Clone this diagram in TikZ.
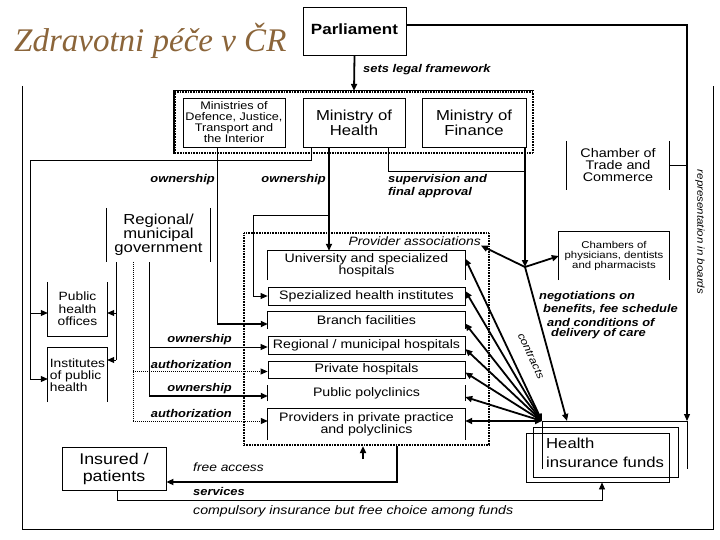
\documentclass[tikz,border=0pt]{standalone}
\usepackage{fontspec}
\setmainfont[FakeStretch=1.15]{Liberation Sans}
\newfontfamily\titlefont{Liberation Serif}
\usetikzlibrary{arrows.meta}
\definecolor{titlebrown}{RGB}{139,101,58}
\newcommand{\myfs}[2]{\fontsize{#1pt}{#2pt}\selectfont}
\begin{document}
\begin{tikzpicture}[x=1pt,y=-1pt,
  box/.style={draw, line width=0.8pt, inner sep=0pt, align=center},
  nb/.style={inner sep=0pt, align=center},
  thinl/.style={line width=0.8pt},
  medl/.style={line width=1.2pt},
  thickl/.style={line width=1.8pt},
  arr/.style={-{Triangle[length=7pt,width=6pt]}},
  darr/.style={{Triangle[length=7pt,width=6pt]}-{Triangle[length=7pt,width=6pt]}},
  grp/.style={draw, line width=2.2pt, dash pattern=on 0.9pt off 0.7pt, inner sep=0pt},
  lbl/.style={inner sep=0pt, font=\myfs{11.2}{12.3}\bfseries\itshape},
  ilbl/.style={inner sep=0pt, font=\myfs{12}{12}\itshape},
  prv/.style={nb, minimum width=197pt, font=\myfs{12.3}{12}},
  dotl/.style={line width=1pt, densely dotted}]
\fill[white] (0,0) rectangle (720,540);
\useasboundingbox (0,0) rectangle (720,540);

% title
\node[anchor=base west, inner sep=0pt, text=titlebrown, font=\titlefont\itshape\fontsize{33pt}{33pt}\selectfont] (title) at (14,52) {Zdravotni péče v ČR};

% outer frame
\draw[thinl] (22,86) -- (22,529) -- (713,529) -- (713,86);

% parliament and ministries
\node[box, minimum width=103pt, minimum height=48pt, font=\myfs{14.8}{15}\bfseries] (parl) at (354.5,31) {\raisebox{4pt}{Parliament}};
\node[grp, minimum width=358pt, minimum height=61pt] (mingrp) at (354,122.5) {};
\draw[line width=1.2pt] (mingrp.south west) -- (mingrp.north west) -- (mingrp.north east);
\node[box, minimum width=102pt, minimum height=49pt, font=\myfs{11}{11}] (mdef) at (234,122.5) {Ministries of\\Defence, Justice,\\Transport and\\the Interior};
\node[box, minimum width=102pt, minimum height=49pt, font=\myfs{14.5}{15}] (mhealth) at (354,122.5) {Ministry of\\Health};
\node[box, minimum width=104pt, minimum height=49pt, font=\myfs{14.5}{15}] (mfin) at (474,122.5) {Ministry of\\Finance};
\node[lbl, anchor=west] (legal) at (363,70) {sets legal framework};

% chambers
\node[nb, minimum width=102pt, minimum height=49pt, font=\myfs{12.5}{12}] (ctc) at (618,165.5) {Chamber of\\Trade and\\Commerce};
\draw[thinl] (ctc.north west) -- (ctc.south west) (ctc.north east) -- (ctc.south east);
\node[nb, minimum width=110pt, minimum height=48pt, font=\myfs{9.9}{10}] (cpd) at (614,256) {Chambers of\\physicians, dentists\\and pharmacists};
\draw[thinl] (cpd.south west) -- (cpd.north west) -- (cpd.north east) -- (cpd.south east);

% regional government, public health
\node[nb, minimum width=103pt, minimum height=54pt, font=\myfs{14.5}{14}] (regov) at (158.5,235) {Regional/\\municipal\\government};
\draw[thinl] (regov.north west) -- (regov.south west) (regov.north east) -- (regov.south east);
\node[nb, minimum width=59pt, minimum height=54pt, font=\myfs{12}{12.5}] (pho) at (77.5,309) {Public\\health\\offices};
\draw[thinl] (pho.north west) -- (pho.south west) -- (pho.south east) -- (pho.north east);
\node[nb, minimum width=59pt, minimum height=54pt, font=\myfs{12}{12}, align=left] (iph) at (77.5,375) {Institutes\\of public\\health};
\draw[thinl] (iph.south west) -- (iph.north west) -- (iph.north east) -- (iph.south east);

% providers
\node[grp, minimum width=245pt, minimum height=212pt] (prov) at (366.5,339) {};
\node[nb, anchor=east, font=\myfs{12.1}{12}\itshape] (pa) at (481,241) {Provider associations};
\node[prv, minimum height=29pt] (univ) at (366.5,265.5) {University and specialized\\hospitals};
\draw[thinl] (univ.south west) -- (univ.north west) -- (univ.north east) -- (univ.south east);
\node[prv, draw, line width=0.8pt, minimum height=18pt] (spec) at (366.5,296) {Spezialized health institutes};
\node[prv, minimum height=17pt] (branch) at (366.5,320.5) {Branch facilities};
\draw[thinl] (branch.south west) -- (branch.north west) -- (branch.north east) -- (branch.south east);
\node[prv, draw, line width=0.8pt, minimum height=18pt] (reg) at (366.5,345) {Regional / municipal hospitals};
\node[prv, draw, line width=0.8pt, minimum height=17pt] (priv) at (366.5,369.5) {Private hospitals};
\node[prv, minimum height=16pt] (poly) at (366.5,393) {Public polyclinics};
\draw[thinl] (poly.south west) -- (poly.north west) (poly.south east) -- (poly.north east);
\node[prv, minimum height=31pt] (ppp) at (366.5,424.5) {Providers in private practice\\and polyclinics};
\draw[thinl] (ppp.south west) -- (ppp.north west) -- (ppp.north east) -- (ppp.south east);

% health insurance funds
\coordinate (conv) at (542,421);
\coordinate (hifR) at (687,421);
\draw[thinl] (542,469) -- (conv) -- (hifR) -- (687,469);
\node[box, minimum width=145pt, minimum height=50pt] (hifa) at (605.5,452) {};
\node[box, minimum width=143pt, minimum height=49pt] (hifb) at (597.5,457.5) {};
\node[nb, anchor=west, align=left, font=\myfs{14.5}{19}] (hif) at (546,452.5) {Health\\insurance funds};

% insured
\node[box, minimum width=104pt, minimum height=43pt, font=\myfs{15.5}{17}] (ins) at (114,468.5) {Insured /\\patients};

% ---- connectors ----
\draw[thickl,arr] (parl.south) -- (mingrp.north);
\draw[medl,arr] ([yshift=6pt]parl.east) -| (hifR);
\node[inner sep=0pt, rotate=-90, font=\myfs{10}{10}\itshape] (repr) at (700,232) {representation in boards};
\draw[thinl] (ctc.east) -- (ctc.east -| hifR);

% ownership from other ministries
\coordinate (dA) at ([xshift=-17pt]mdef.south);
\coordinate (brW) at ([yshift=-3.5pt]branch.west);
\draw[thinl] (dA) -- (dA |- brW);
\draw[thickl,arr] (dA |- brW) -- (brW);
\node[lbl, anchor=east] (own1) at (215,180) {ownership};

% ministry of health to public health
\coordinate (hA) at ([xshift=-43pt]mhealth.south);
\coordinate (lft) at (30,160);
\coordinate (phoA) at ([yshift=-4pt]pho.west);
\coordinate (iphA) at ([yshift=-4pt]iph.west);
\draw[thinl] (hA) |- (lft) -- (lft |- iphA);
\draw[thinl,arr] (lft |- phoA) -- (phoA);
\draw[thinl,arr] (lft |- iphA) -- (iphA);

% ministry of health ownership
\coordinate (hB) at ([xshift=-25pt]mhealth.south);
\draw[thickl,arr] (hB) -- (hB |- univ.north);
\coordinate (sp1) at (329,215);
\coordinate (sp2) at (253,215);
\draw[thinl,arr] (sp1) -- (sp2) |- (spec.west);
\node[lbl, anchor=east] (own2) at (326,180) {ownership};

% supervision
\coordinate (hC) at ([xshift=34pt]mhealth.south);
\coordinate (fA) at ([xshift=51pt]mfin.south);
\coordinate (sup) at (525,171);
\coordinate (J) at (525,267);
\draw[thinl] (hC) |- (sup);
\draw[thickl,arr] (fA) -- (J);
\node[lbl, anchor=west, align=left] (superv) at (388,186) {supervision and\\final approval};
\draw[thickl,arr] (J) -- (pa.south east);
\draw[thickl,arr] (J) -- (cpd.west);
\coordinate (hifN) at (567,421);
\draw[thickl,arr] (J) -- (hifN);
\node[lbl, anchor=west] (neg1) at (539,297) {negotiations on};
\node[lbl, anchor=west] (neg2) at (543,309) {benefits, fee schedule};
\node[lbl, anchor=west] (neg3) at (547,322) {and conditions of};
\node[lbl, anchor=west] (neg4) at (551,334) {delivery of care};

% contracts
\draw[thickl,darr] (conv) -- ([yshift=7pt]univ.east);
\draw[thickl,darr] (conv) -- ([yshift=5pt]spec.east);
\draw[thickl,darr] (conv) -- ([yshift=-3pt]branch.east);
\draw[thickl,darr] (conv) -- ([yshift=-4pt]reg.east);
\draw[thickl,darr] (conv) -- ([yshift=-3pt]priv.east);
\draw[thickl,darr] (conv) -- ([yshift=-4pt]poly.east);
\draw[thickl,darr] ([yshift=3.5pt]ppp.east) -- (conv);
\node[inner sep=0pt, rotate=-65, font=\myfs{10.5}{11}\itshape] (contr) at (531,356) {contracts};

% regional government links
\coordinate (rA) at ([xshift=-42.5pt]regov.south);
\coordinate (rB) at ([xshift=-25.5pt]regov.south);
\coordinate (rC) at ([xshift=-9.5pt]regov.south);
\coordinate (phoB) at ([yshift=-4pt]pho.east);
\coordinate (iphB) at ([yshift=15pt]iph.east);
\draw[thinl] (rA) -- (rA |- iphB);
\draw[thinl,arr] (rA |- phoB) -- (phoB);
\draw[thinl,arr] (rA |- iphB) -- (iphB);
\coordinate (regW) at ([yshift=-2pt]reg.west);
\coordinate (privW) at ([yshift=-2pt]priv.west);
\coordinate (polyW) at ([yshift=-3pt]poly.west);
\coordinate (pppW) at ([yshift=3.5pt]ppp.west);
\draw[dotl] (rB) -- (rB |- pppW);
\draw[dotl,arr] (rB |- privW) -- (privW);
\draw[dotl,arr] (rB |- pppW) -- (pppW);
\draw[thinl] (rC) -- (rC |- polyW);
\draw[thinl,arr] (rC |- regW) -- (regW);
\draw[thickl,arr] (rC |- polyW) -- (polyW);
\node[lbl, anchor=east] (own3) at (232,340) {ownership};
\node[lbl, anchor=east] (auth1) at (232,364) {authorization};
\node[lbl, anchor=east] (own4) at (232,389) {ownership};
\node[lbl, anchor=east] (auth2) at (232,413) {authorization};

% bottom
\coordinate (faS) at ([xshift=30.5pt]prov.south);
\coordinate (insE) at ([yshift=-13.5pt]ins.east);
\draw[thickl,arr] (faS) |- (insE);
\coordinate (ua) at (363,459);
\draw[thickl,arr] (ua) -- (ua |- prov.south);
\coordinate (svL) at (117,500);
\coordinate (svR) at (602,500);
\draw[thinl,arr] (ins.south -| svL) -- (svL) -- (svR) -- (svR |- hifb.south);
\node[ilbl, anchor=west] (freea) at (193,467) {free access};
\node[lbl, anchor=west] (serv) at (193,491) {services};
\node[ilbl, anchor=west, font=\myfs{12.3}{12}\itshape] (comp) at (193,511) {compulsory insurance but free choice among funds};
\end{tikzpicture}
\end{document}
